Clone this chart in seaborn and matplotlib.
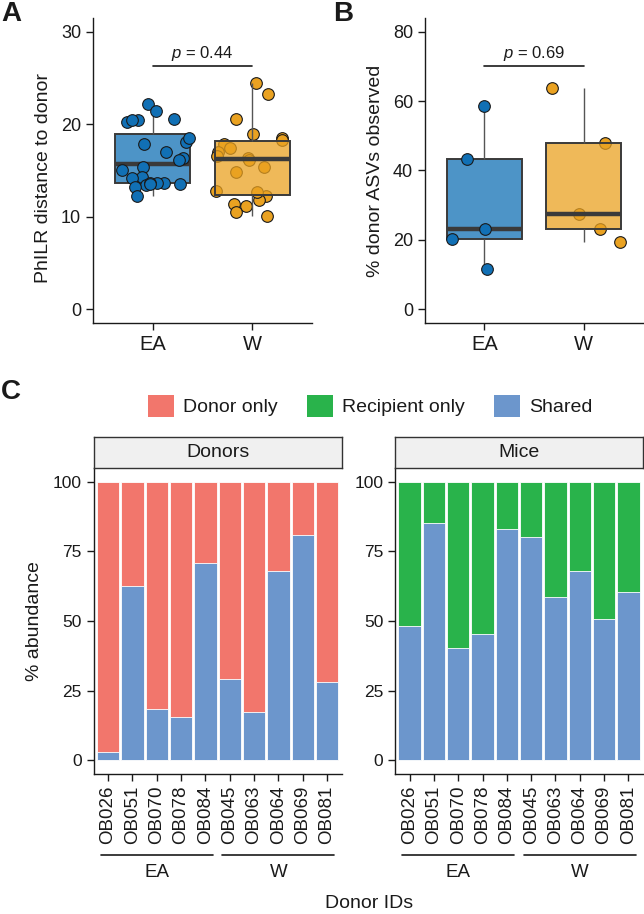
import numpy as np
import pandas as pd
import matplotlib
matplotlib.use("Agg")
import matplotlib.pyplot as plt
import matplotlib.transforms as mtransforms
from matplotlib.patches import Patch
import seaborn as sns

# ---------------- data ----------------
groups = ["EA", "W"]

# Panel A: PhILR distance to donor
philr_EA = [22.2, 20.2, 21.4, 20.6, 20.5, 20.5, 17.9, 18.1, 18.5, 17.0, 16.3, 16.1,
            15.4, 15.1, 13.6, 13.6, 14.3, 14.2, 13.4, 13.6, 13.2, 12.25, 13.5, 13.5]
philr_W = [24.5, 23.3, 20.6, 18.95, 18.55, 18.3, 17.9, 17.4, 17.0, 16.3, 16.6,
           16.1, 15.35, 14.8, 12.25, 11.8, 12.8, 12.7, 11.35, 11.2, 10.55, 10.1]
pval_A = "0.44"

# Panel B: % donor ASVs observed
asv_EA = [11.6, 23.2, 20.2, 43.2, 58.6]
asv_W = [63.7, 47.8, 27.4, 23.2, 19.3]
pval_B = "0.69"

# Panel C: % abundance
donor_ids = ["OB026", "OB051", "OB070", "OB078", "OB084",
             "OB045", "OB063", "OB064", "OB069", "OB081"]
donor_group = ["EA", "EA", "EA", "EA", "EA", "W", "W", "W", "W", "W"]
shared_donors = [2.8, 62.5, 18.2, 15.4, 71.0, 29.1, 17.3, 68.1, 80.9, 27.9]
shared_mice = [48.3, 85.2, 40.3, 45.5, 82.9, 80.2, 58.5, 68.1, 50.7, 60.6]
donor_only = [100 - s for s in shared_donors]
recipient_only = [100 - s for s in shared_mice]
categories = ["Donor only", "Recipient only", "Shared"]
facets = ["Donors", "Mice"]

# ---------------- style ----------------
sns.set_theme(style="white")
plt.rcParams["font.family"] = ["Liberation Sans", "DejaVu Sans"]
plt.rcParams["mathtext.fontset"] = "custom"
plt.rcParams["mathtext.it"] = "Liberation Sans:italic"
plt.rcParams["mathtext.rm"] = "Liberation Sans"

TXT = "#1a1a1a"
group_colors = {"EA": "#1170B5", "W": "#EAA221"}
cat_colors = {"Donor only": "#F2766C", "Recipient only": "#29B34B", "Shared": "#6C96CC"}

W_PX, H_PX = 644, 914
fig = plt.figure(figsize=(W_PX / 100, H_PX / 100), dpi=100)


def fbox(x0, y0, x1, y1):
    """pixel box (left, top, right, bottom) -> figure fraction rect"""
    return [x0 / W_PX, 1 - y1 / H_PX, (x1 - x0) / W_PX, (y1 - y0) / H_PX]


def style_axis(ax):
    for s in ["top", "right"]:
        ax.spines[s].set_visible(False)
    for s in ["left", "bottom"]:
        ax.spines[s].set_color(TXT)
        ax.spines[s].set_linewidth(1.0)
    ax.tick_params(axis="both", which="both", length=5, width=1.0, color=TXT,
                   labelcolor=TXT, bottom=True, left=True)


def box_panel(ax, vals_EA, vals_W, ylim, yticks, ylabel, pval, bracket_y, text_y,
              seed, ylab_y=0.5):
    df = pd.DataFrame({"group": ["EA"] * len(vals_EA) + ["W"] * len(vals_W),
                       "value": list(vals_EA) + list(vals_W)})
    np.random.seed(seed)
    n0 = len(ax.collections)
    sns.stripplot(data=df[df.group == "W"], x="group", y="value", order=groups,
                  color=group_colors["W"], jitter=0.38, size=8.4, linewidth=0.8,
                  edgecolor="#1a1a1a", ax=ax)
    for c in ax.collections[n0:]:
        c.set_zorder(1)
    sns.boxplot(data=df, x="group", y="value", order=groups, hue="group",
                hue_order=groups, palette=group_colors, saturation=1, width=0.75,
                showfliers=False, showcaps=False, linecolor="#3a3a3a", linewidth=1.4,
                medianprops={"linewidth": 3.2, "color": "#3a3a3a"},
                whiskerprops={"linewidth": 1.0, "color": "#555555"},
                legend=False, ax=ax)
    for p in ax.patches:
        fc = p.get_facecolor()
        p.set_facecolor((fc[0], fc[1], fc[2], 0.75))
        p.set_zorder(2)
    for ln in ax.lines:
        ln.set_zorder(2.5)
    n0 = len(ax.collections)
    sns.stripplot(data=df[df.group == "EA"], x="group", y="value", order=groups,
                  color=group_colors["EA"], jitter=0.38, size=8.4, linewidth=0.8,
                  edgecolor="#1a1a1a", ax=ax)
    for c in ax.collections[n0:]:
        c.set_zorder(3)
    ax.set_xlim(-0.6, 1.6)
    ax.set_ylim(*ylim)
    ax.set_yticks(yticks)
    style_axis(ax)
    ax.tick_params(axis="y", labelsize=13)
    ax.tick_params(axis="x", labelsize=14.5)
    ax.set_xlabel("")
    ax.set_ylabel(ylabel, fontsize=14, color=TXT, va="center")
    ax.yaxis.set_label_coords(-0.228, ylab_y)
    ax.plot([0, 1], [bracket_y, bracket_y], color=TXT, lw=1.2, zorder=4)
    ax.text(0.5, text_y, f"$p$ = {pval}", ha="center", va="center", fontsize=12,
            color=TXT)


# ---------------- Panel A ----------------
axA = fig.add_axes(fbox(93, 18, 312, 323))
box_panel(axA, philr_EA, philr_W, (-1.5, 31.5), [0, 10, 20, 30],
          "PhILR distance to donor", pval_A, 26.3, 27.7, seed=3, ylab_y=0.474)

# ---------------- Panel B ----------------
axB = fig.add_axes(fbox(425, 18, 643, 323))
box_panel(axB, asv_EA, asv_W, (-4, 84), [0, 20, 40, 60, 80],
          "% donor ASVs observed", pval_B, 70.2, 73.8, seed=7)

# ---------------- Panel C ----------------
def bar_panel(ax, shared, other, other_label, facet, show_ylabel):
    df = pd.DataFrame({"id": donor_ids, "group": donor_group,
                       "shared": shared, "other": other})
    df["total"] = df["shared"] + df["other"]
    sns.barplot(data=df, x="id", y="total", order=donor_ids,
                color=cat_colors[other_label], saturation=1, width=0.92,
                edgecolor="white", linewidth=0.6, errorbar=None, ax=ax)
    sns.barplot(data=df, x="id", y="shared", order=donor_ids,
                color=cat_colors["Shared"], saturation=1, width=0.92,
                edgecolor="white", linewidth=0.6, errorbar=None, ax=ax)
    ax.set_xlim(-0.6, len(donor_ids) - 0.4)
    ax.set_ylim(-5, 105)
    ax.set_yticks([0, 25, 50, 75, 100])
    style_axis(ax)
    ax.tick_params(axis="y", labelsize=12.5)
    ax.tick_params(axis="x", labelsize=13.5, rotation=90)
    ax.set_xlabel("")
    if show_ylabel:
        ax.set_ylabel("% abundance", fontsize=14, color=TXT, va="center")
        ax.yaxis.set_label_coords(-0.236, 0.5)
    else:
        ax.set_ylabel("")
    # group brackets under tick labels
    trans = mtransforms.blended_transform_factory(ax.transData, ax.transAxes)
    for g in groups:
        idx = [i for i, gg in enumerate(donor_group) if gg == g]
        i0, i1 = min(idx), max(idx)
        ax.plot([i0 - 0.3, i1 + 0.3], [-0.265, -0.265], transform=trans,
                clip_on=False, color=TXT, lw=1.2)
        ax.text((i0 + i1) / 2, -0.323, g, transform=trans, ha="center",
                va="center", fontsize=13.5, color=TXT)


strip_top, strip_bot = 437, 468
axC1 = fig.add_axes(fbox(93.5, strip_bot, 341.7, 774))
bar_panel(axC1, shared_donors, donor_only, "Donor only", facets[0], True)
axC2 = fig.add_axes(fbox(395, strip_bot, 643, 774))
bar_panel(axC2, shared_mice, recipient_only, "Recipient only", facets[1], False)

for ax, (x0, x1), lab in [(axC1, (93.5, 341.7), facets[0]), (axC2, (395, 643), facets[1])]:
    sax = fig.add_axes(fbox(x0, strip_top, x1, strip_bot))
    sax.set_facecolor("#F0F0F0")
    sax.set_xticks([])
    sax.set_yticks([])
    for s in sax.spines.values():
        s.set_visible(True)
        s.set_color("#333333")
        s.set_linewidth(1.0)
    sax.text(0.5, 0.5, lab, ha="center", va="center", fontsize=14, color=TXT,
             transform=sax.transAxes)

fig.text(369 / W_PX, 1 - 903 / H_PX, "Donor IDs", ha="center", va="center",
         fontsize=14, color=TXT)

handles = [Patch(facecolor=cat_colors[c], edgecolor="none") for c in categories]
fig.legend(handles, categories, loc="center", bbox_to_anchor=(370 / W_PX, 1 - 406 / H_PX),
           ncol=3, frameon=False, fontsize=14, handlelength=1.35, handleheight=1.35,
           handletextpad=0.45, columnspacing=1.5, labelcolor=TXT)

# panel letters
fig.text(1 / W_PX, 1 - 1 / H_PX, "A", fontsize=20, fontweight="bold", va="top", ha="left", color=TXT)
fig.text(333 / W_PX, 1 - 1 / H_PX, "B", fontsize=20, fontweight="bold", va="top", ha="left", color=TXT)
fig.text(1 / W_PX, 1 - 379 / H_PX, "C", fontsize=20, fontweight="bold", va="top", ha="left", color=TXT)

fig.savefig("out.png", dpi=100, facecolor="white")
